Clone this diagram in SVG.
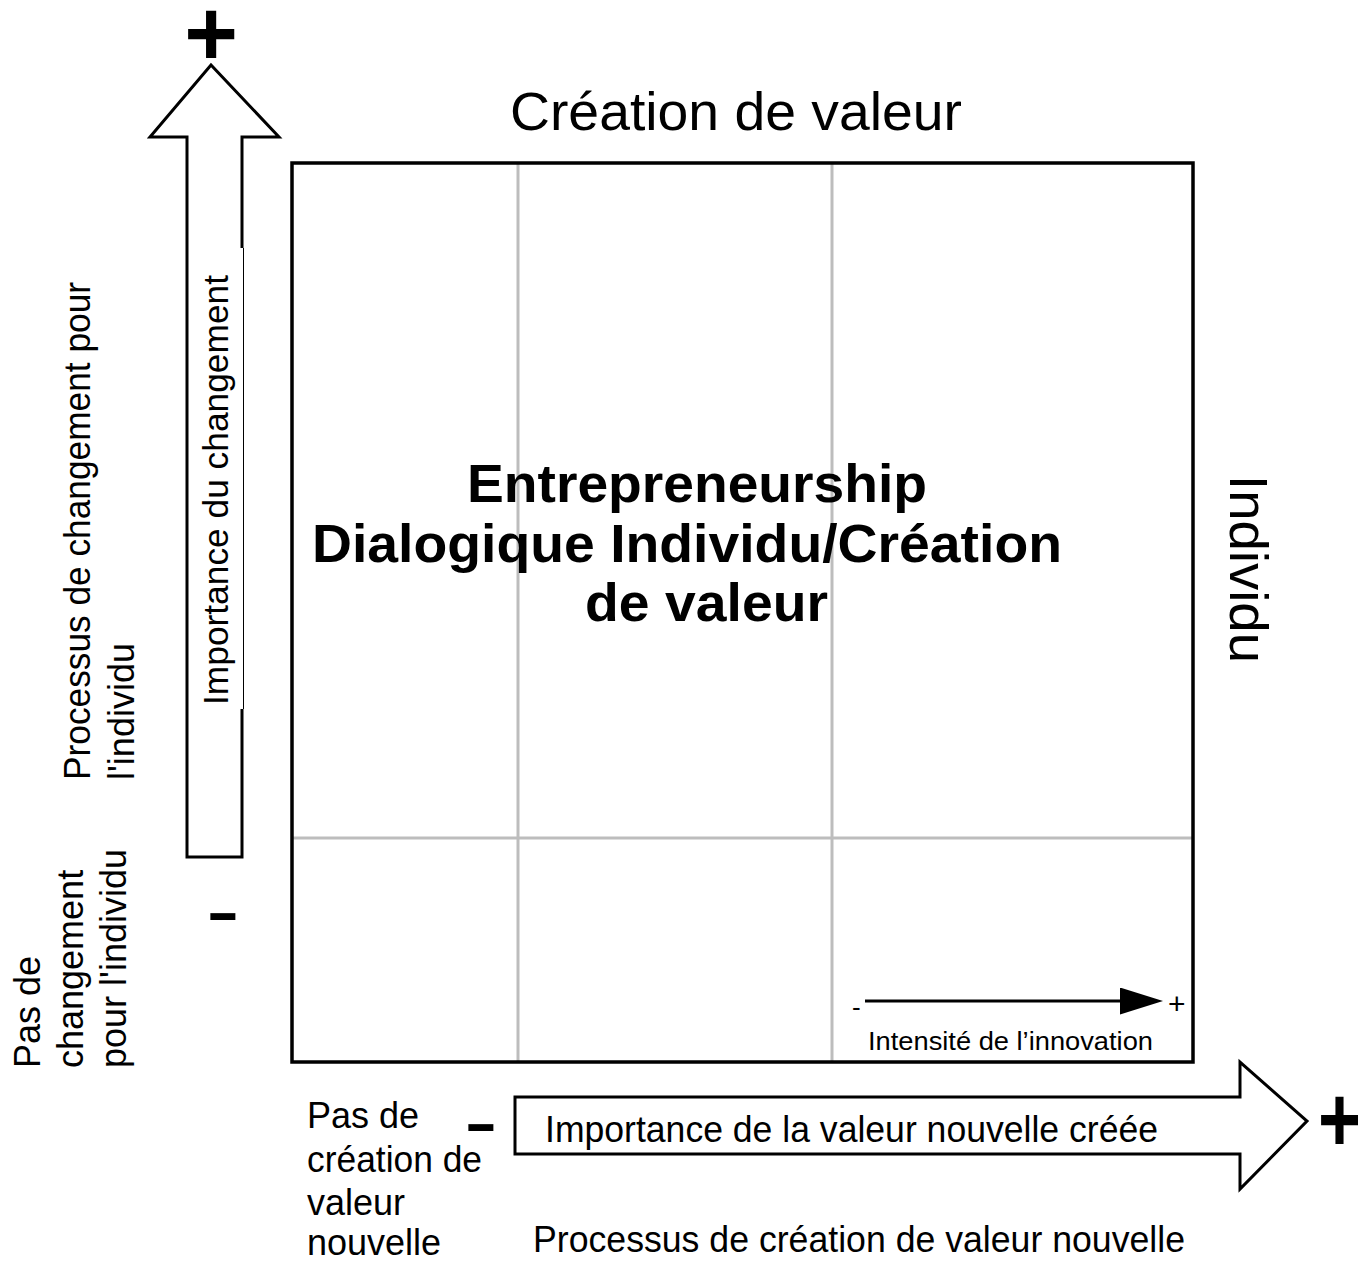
<svg xmlns="http://www.w3.org/2000/svg" width="1361" height="1263" viewBox="0 0 1361 1263">
<style>
text{font-family:"Liberation Sans",Arial,sans-serif;fill:#000}
.t36{font-size:36px}
.b{font-weight:bold}
.outline{fill:#fff;stroke:#000;stroke-width:3;stroke-linejoin:miter}
.grid{stroke:#bdbdbd;stroke-width:3;fill:none}
.sign{font-weight:bold;text-anchor:middle}
</style>
<defs>
<marker id="tri" viewBox="0 0 43 27" refX="0" refY="13.5" markerWidth="43" markerHeight="27" markerUnits="userSpaceOnUse" orient="auto">
<polygon points="0,0 43,13.5 0,27" fill="#000"/>
</marker>
</defs>
<rect width="1361" height="1263" fill="#fff"/>

<g id="matrix">
<rect x="292" y="163" width="901" height="899" fill="#fff" stroke="none"/>
<line class="grid" x1="518" y1="163" x2="518" y2="1062"/>
<line class="grid" x1="832" y1="163" x2="832" y2="1062"/>
<line class="grid" x1="292" y1="838" x2="1193" y2="838"/>
<rect x="292" y="163" width="901" height="899" fill="none" stroke="#000" stroke-width="3.5"/>
</g>

<g id="title">
<text x="510" y="130" font-size="54" textLength="452" lengthAdjust="spacingAndGlyphs">Création de valeur</text>
</g>

<g id="center-label">
<text class="b" x="467" y="502" font-size="54" textLength="460" lengthAdjust="spacingAndGlyphs">Entrepreneurship</text>
<text class="b" x="312" y="562" font-size="54" textLength="750" lengthAdjust="spacingAndGlyphs">Dialogique Individu/Création</text>
<text class="b" x="585" y="621" font-size="54" textLength="243" lengthAdjust="spacingAndGlyphs">de valeur</text>
</g>

<g id="right-label">
<text transform="translate(1230,475) rotate(90)" font-size="54" textLength="188" lengthAdjust="spacingAndGlyphs">Individu</text>
</g>

<g id="vertical-arrow">
<polygon class="outline" points="187,857 187,137 150,137 211,65 279,137 242,137 242,857"/>
<rect x="240" y="248" width="4.5" height="461" fill="#fff"/>
<line x1="243.5" y1="248" x2="243.5" y2="709" stroke="#000" stroke-width="1"/>
<text transform="translate(228,705) rotate(-90)" font-size="35" textLength="430" lengthAdjust="spacingAndGlyphs">Importance du changement</text>
<text class="sign" x="211" y="65" font-size="92">+</text>
<text class="sign" transform="translate(223,932) scale(1.7,1)" font-size="58">-</text>
</g>

<g id="left-labels">
<text class="t36" transform="translate(90,780) rotate(-90)" textLength="498" lengthAdjust="spacingAndGlyphs">Processus de changement pour</text>
<text class="t36" transform="translate(134,780) rotate(-90)">l'individu</text>
<text class="t36" transform="translate(40,1068) rotate(-90)">Pas de</text>
<text class="t36" transform="translate(83,1068) rotate(-90)">changement</text>
<text class="t36" transform="translate(126,1068) rotate(-90)">pour l'individu</text>
</g>

<g id="horizontal-arrow">
<polygon class="outline" points="515,1097 1240,1097 1240,1062 1307,1121 1240,1189 1240,1154 515,1154"/>
<text class="t36" x="545" y="1142" textLength="613" lengthAdjust="spacingAndGlyphs">Importance de la valeur nouvelle créée</text>
<text class="sign" transform="translate(481,1143) scale(1.7,1)" font-size="58">-</text>
<text font-weight="bold" text-anchor="end" transform="translate(1361,1151) scale(0.8,1)" font-size="92">+</text>
</g>

<g id="bottom-labels">
<text class="t36" x="307" y="1128">Pas de</text>
<text class="t36" x="307" y="1172" textLength="175" lengthAdjust="spacingAndGlyphs">création de</text>
<text class="t36" x="307" y="1215">valeur</text>
<text class="t36" x="307" y="1255">nouvelle</text>
<text class="t36" x="533" y="1252" textLength="652" lengthAdjust="spacingAndGlyphs">Processus de création de valeur nouvelle</text>
</g>

<g id="connectors">
<line x1="865" y1="1001" x2="1120" y2="1001" stroke="#000" stroke-width="3" marker-end="url(#tri)"/>
</g>

<g id="innovation-scale">
<text x="852" y="1016" font-size="26">-</text>
<text x="1168" y="1014" font-size="30">+</text>
<text x="868" y="1050" font-size="26" textLength="285" lengthAdjust="spacingAndGlyphs">Intensité de l’innovation</text>
</g>
</svg>
